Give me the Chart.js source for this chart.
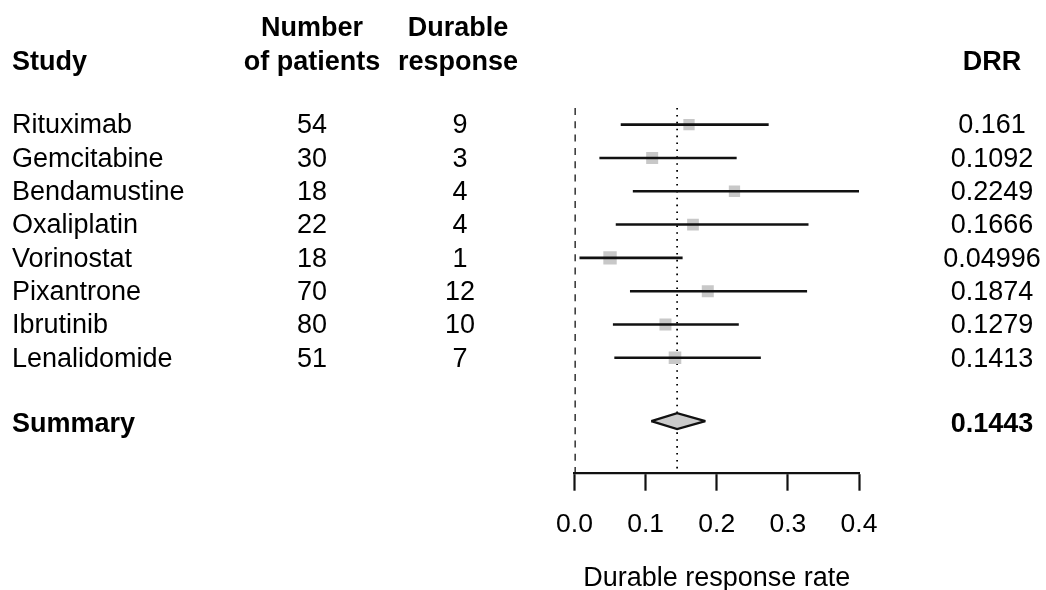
<!DOCTYPE html>
<html>
<head>
<meta charset="utf-8">
<script src="https://cdn.jsdelivr.net/npm/chart.js@4/dist/chart.umd.min.js"></script>
<style>
  html, body { margin: 0; padding: 0; background: #fff; }
  #forest { display: block; }
</style>
</head>
<body>
<canvas id="forest" width="1046" height="590"></canvas>
<script>
// study table
const studies = ['Rituximab', 'Gemcitabine', 'Bendamustine', 'Oxaliplatin', 'Vorinostat', 'Pixantrone', 'Ibrutinib', 'Lenalidomide'];
const patients = [54, 30, 18, 22, 18, 70, 80, 51];
const responses = [9, 3, 4, 4, 1, 12, 10, 7];
const drr = [0.161, 0.1092, 0.2249, 0.1666, 0.04996, 0.1874, 0.1279, 0.1413];
const ciLow = [0.065, 0.035, 0.082, 0.058, 0.007, 0.078, 0.054, 0.056];
const ciHigh = [0.273, 0.228, 0.424, 0.329, 0.152, 0.327, 0.231, 0.262];

// pooled estimate
const summaryLabel = 'Summary';
const summaryDrr = 0.1443;
const summaryLow = 0.108;
const summaryHigh = 0.184;

// axis
const xTickStep = 0.1;
const xMin = 0;
const xMax = 0.4;
const xTitle = 'Durable response rate';

// layout / style (not data)
const boxSide = [11.3, 12, 11.3, 11.7, 13.4, 12, 12, 12.6];
const summaryRow = 9.9;
const yMin = 0.5;
const yMax = 11.45;
const diamondHalf = 0.24;
const FONT = '"Liberation Sans", Arial, Helvetica, sans-serif';
const FS = 27;
const ink = '#111';

const rows = studies.map((_, i) => i + 1);

const ciSets = studies.map((s, i) => ({
  label: s,
  data: [{ x: ciLow[i], y: rows[i] }, { x: ciHigh[i], y: rows[i] }],
  borderColor: ink,
  borderWidth: 2.6,
  pointRadius: 0,
  fill: false,
  order: 2
}));

const datasets = [
  // diamond, upper half
  {
    data: [{ x: summaryLow, y: summaryRow }, { x: summaryDrr, y: summaryRow - diamondHalf }, { x: summaryHigh, y: summaryRow }],
    borderColor: ink, borderWidth: 2.2, pointRadius: 0, fill: false, tension: 0, order: 0
  },
  // diamond, lower half filled up to the upper one
  {
    data: [{ x: summaryLow, y: summaryRow }, { x: summaryDrr, y: summaryRow + diamondHalf }, { x: summaryHigh, y: summaryRow }],
    borderColor: ink, borderWidth: 2.2, pointRadius: 0, fill: '-1', backgroundColor: '#cbcbcb', tension: 0, order: 1
  },
  ...ciSets,
  {
    data: drr.map((v, i) => ({ x: v, y: rows[i] })),
    showLine: false,
    pointStyle: 'rect',
    pointRadius: boxSide.map(s => s / Math.SQRT2),
    pointBackgroundColor: '#c8c8c8',
    pointBorderWidth: 0,
    order: 3
  },
  // no-effect line
  {
    data: [{ x: 0, y: yMin }, { x: 0, y: yMax }],
    borderColor: '#111', borderWidth: 2.6, borderDash: [7, 6.3], pointRadius: 0, fill: false, order: 4
  },
  // summary reference line
  {
    data: [{ x: summaryDrr, y: yMin }, { x: summaryDrr, y: yMax }],
    borderColor: '#000', borderWidth: 1.8, borderDash: [1.6, 5.3], pointRadius: 0, fill: false, order: 4
  }
];

// table columns drawn against the y scale
const tablePlugin = {
  id: 'forestTable',
  afterDraw(chart) {
    const ctx = chart.ctx;
    const y = chart.scales.y;
    const text = (str, x, row, align, bold) => {
      ctx.font = (bold ? 'bold ' : '') + FS + 'px ' + FONT;
      ctx.textAlign = align;
      ctx.fillText(str, x, y.getPixelForValue(row));
    };
    ctx.save();
    ctx.fillStyle = '#000';
    ctx.textBaseline = 'middle';

    text('Number', 312, -1.88, 'center', true);
    text('Durable', 458, -1.88, 'center', true);
    text('Study', 12, -0.87, 'left', true);
    text('of patients', 312, -0.87, 'center', true);
    text('response', 458, -0.87, 'center', true);
    text('DRR', 992, -0.87, 'center', true);

    studies.forEach((s, i) => {
      text(s, 12, rows[i] + 0.04, 'left', false);
      text(String(patients[i]), 312, rows[i] + 0.04, 'center', false);
      text(String(responses[i]), 460, rows[i] + 0.04, 'center', false);
      text(String(drr[i]), 992, rows[i] + 0.04, 'center', false);
    });

    text(summaryLabel, 12, summaryRow + 0.1, 'left', true);
    text(String(summaryDrr), 992, summaryRow + 0.1, 'center', true);
    ctx.restore();
  }
};

new Chart(document.getElementById('forest'), {
  type: 'line',
  data: { datasets: datasets },
  options: {
    responsive: false,
    animation: false,
    events: [],
    layout: { padding: { left: 574.5, right: 187, top: 108, bottom: 0 } },
    plugins: {
      legend: { display: false },
      tooltip: { enabled: false }
    },
    scales: {
      x: {
        type: 'linear',
        min: xMin,
        max: xMax,
        afterFit: scale => { scale.height = 117.3; },
        ticks: {
          stepSize: xTickStep,
          callback: v => v.toFixed(1),
          color: '#000',
          font: { family: FONT, size: 26.5 },
          padding: 18,
          maxRotation: 0
        },
        grid: {
          drawOnChartArea: false,
          drawTicks: true,
          tickLength: 18,
          tickWidth: 2.2,
          tickColor: ink
        },
        border: { display: true, width: 2.2, color: ink },
        title: {
          display: true,
          text: xTitle,
          color: '#000',
          font: { family: FONT, size: 27, lineHeight: 0.8 },
          padding: { top: 0, bottom: 1 }
        }
      },
      y: {
        type: 'linear',
        display: false,
        reverse: true,
        min: yMin,
        max: yMax
      }
    }
  },
  plugins: [tablePlugin]
});
</script>
</body>
</html>
